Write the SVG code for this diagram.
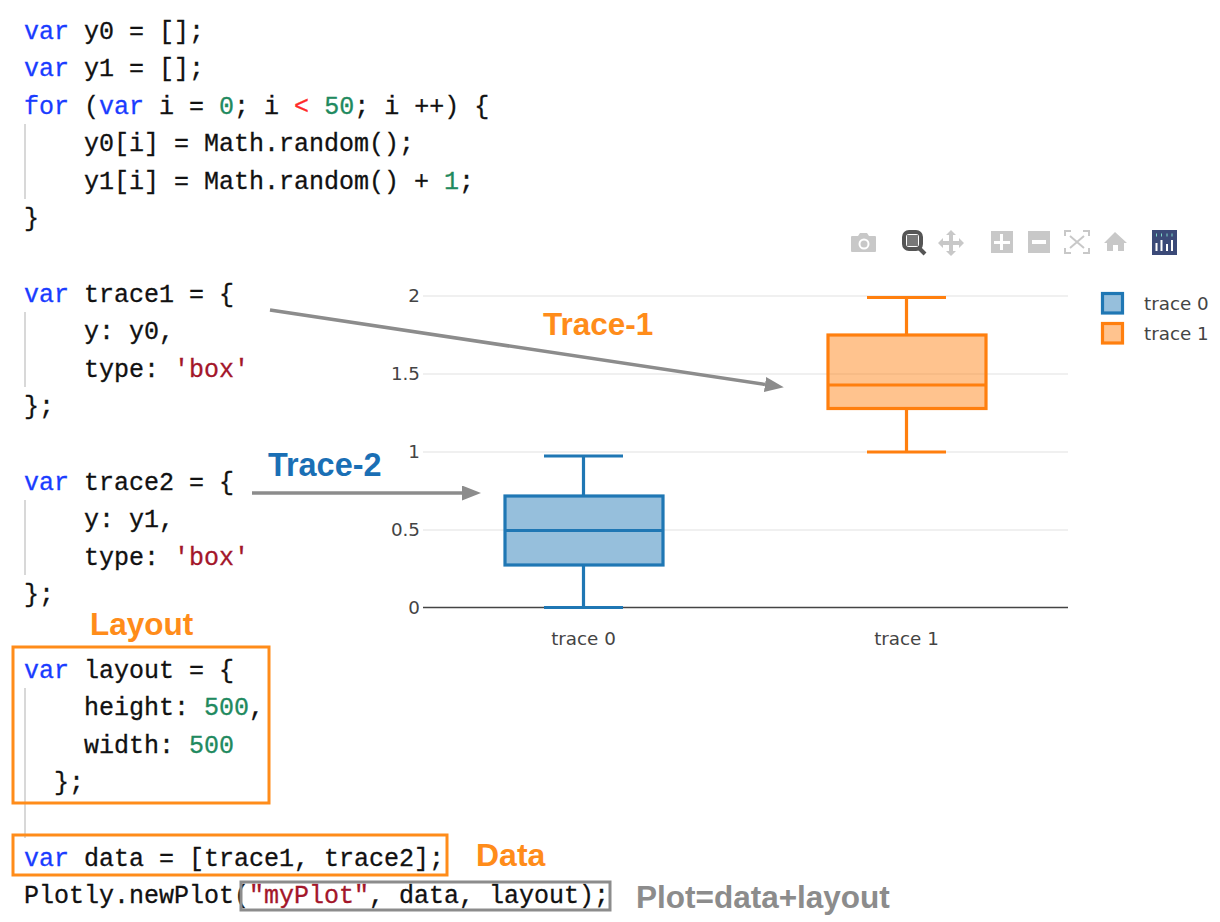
<svg xmlns="http://www.w3.org/2000/svg" width="1220" height="922" viewBox="0 0 1220 922">
<style>
.c{font-family:"Liberation Mono",monospace;font-size:25px;fill:#111;stroke:#111;stroke-width:.3;white-space:pre}
.k{fill:#1a3cff;stroke:#1a3cff}.n{fill:#1f8a60;stroke:#1f8a60}.s{fill:#a3162a;stroke:#a3162a}.o{fill:#ff2a2a;stroke:#ff2a2a}
.a{font-family:"DejaVu Sans",Verdana,sans-serif;font-size:18.300px;fill:#444}
.l{font-family:"Liberation Sans",Arial,sans-serif;font-size:31.500px;font-weight:bold}
.g{stroke:#f0f0f0;stroke-width:2;fill:none}
.ind{stroke:#d8d8d8;stroke-width:2;fill:none}
.b0{stroke:#1f77b4;stroke-width:3.2;fill:none}
.b1{stroke:#ff7f0e;stroke-width:3.2;fill:none}
.tb{fill:#c8c8c8}
</style>
<defs>
<marker id="ah" markerWidth="20" markerHeight="16" refX="0" refY="7.500" orient="auto" markerUnits="userSpaceOnUse"><path d="M0 0L19 7.500L0 15Z" fill="#8c8c8c"/></marker>
</defs>
<rect width="1220" height="922" fill="#fff"/>
<g id="code">
<path class="ind" d="M25 124V199M25 312V387M25 500V575M25 688V838"/>
<text class="c" x="24" y="38.700"><tspan class="k">var</tspan> y0 = [];</text>
<text class="c" x="24" y="76.200"><tspan class="k">var</tspan> y1 = [];</text>
<text class="c" x="24" y="113.700"><tspan class="k">for</tspan> (<tspan class="k">var</tspan> i = <tspan class="n">0</tspan>; i <tspan class="o">&lt;</tspan> <tspan class="n">50</tspan>; i ++) {</text>
<text class="c" x="84" y="151.200">y0[i] = Math.random();</text>
<text class="c" x="84" y="188.700">y1[i] = Math.random() + <tspan class="n">1</tspan>;</text>
<text class="c" x="24" y="226.200">}</text>
<text class="c" x="24" y="301.700"><tspan class="k">var</tspan> trace1 = {</text>
<text class="c" x="84" y="339.200">y: y0,</text>
<text class="c" x="84" y="376.700">type: <tspan class="s">'box'</tspan></text>
<text class="c" x="24" y="414.200">};</text>
<text class="c" x="24" y="489.700"><tspan class="k">var</tspan> trace2 = {</text>
<text class="c" x="84" y="527.200">y: y1,</text>
<text class="c" x="84" y="564.700">type: <tspan class="s">'box'</tspan></text>
<text class="c" x="24" y="602.200">};</text>
<text class="c" x="24" y="677.700"><tspan class="k">var</tspan> layout = {</text>
<text class="c" x="84" y="715.200">height: <tspan class="n">500</tspan>,</text>
<text class="c" x="84" y="752.700">width: <tspan class="n">500</tspan></text>
<text class="c" x="54" y="790.200">};</text>
<text class="c" x="24" y="865.700"><tspan class="k">var</tspan> data = [trace1, trace2];</text>
<text class="c" x="24" y="903.200">Plotly.newPlot(<tspan class="s">"myPlot"</tspan>, data, layout);</text>
</g>
<g id="toolbar">
<path class="tb" d="M852 236h6l2-3h7l2 3h6a1 1 0 0 1 1 1v14a1 1 0 0 1-1 1h-23a1 1 0 0 1-1-1v-14a1 1 0 0 1 1-1z"/>
<circle cx="864" cy="244" r="5.500" fill="#fff"/><circle cx="864" cy="244" r="3.500" fill="#c8c8c8"/>
<rect x="904" y="232" width="17" height="17" rx="5" fill="none" stroke="#555" stroke-width="4"/>
<rect x="907" y="235" width="11" height="11" fill="#777"/>
<path d="M918 247L925 254" stroke="#555" stroke-width="4"/>
<path class="tb" d="M951 230l5 5h-3v6h6v-3l5 5-5 5v-3h-6v6h3l-5 5-5-5h3v-6h-6v3l-5-5 5-5v3h6v-6h-3z"/>
<path class="tb" fill-rule="evenodd" d="M991 231h22v22h-22zM1000 234v7h-6v3h6v6h3v-6h7v-3h-7v-7z"/>
<path class="tb" fill-rule="evenodd" d="M1028 231h22v22h-22zM1032 240v4h14v-4z"/>
<path d="M1065 236v-5h6M1083 231h6v5M1089 248v5h-6M1071 253h-6v-5M1070 236l14 12M1084 236l-14 12" fill="none" stroke="#c8c8c8" stroke-width="2"/>
<path class="tb" d="M1115 232l12 11h-3v8h-6v-6h-5v6h-6v-8h-3z"/>
<rect x="1152" y="230" width="25" height="25" fill="#3b4a78"/>
<path d="M1156.500 243v8M1161.500 240v11M1167 244v7M1172 240v11" stroke="#fff" stroke-width="2"/>
<path d="M1156 235h1M1161 235h1M1166.500 235h1M1171.500 235h1" stroke="#7fd8c8" stroke-width="3"/>
</g>
<g id="plot">
<path class="g" d="M423 296H1068M423 374H1068M423 452H1068M423 530H1068"/>
<path d="M423 607.500H1068" stroke="#444" stroke-width="1.500"/>
<text class="a" x="420" y="302" text-anchor="end">2</text>
<text class="a" x="420" y="380" text-anchor="end">1.5</text>
<text class="a" x="420" y="458" text-anchor="end">1</text>
<text class="a" x="420" y="536" text-anchor="end">0.5</text>
<text class="a" x="420" y="614" text-anchor="end">0</text>
<text class="a" x="583.500" y="645" text-anchor="middle">trace 0</text>
<text class="a" x="906.500" y="645" text-anchor="middle">trace 1</text>
</g>
<g id="box-trace0">
<rect x="505" y="496" width="158" height="69" fill-opacity=".47" class="b0" style="fill:#1f77b4"/>
<path class="b0" d="M505 530.500H663M583.500 496V456M544 456H623M583.500 565V607.500M544 607.500H623"/>
</g>
<g id="box-trace1">
<rect x="828" y="335" width="158" height="73.500" class="b1" style="fill:#ff7f0e" fill-opacity=".47"/>
<path class="b1" d="M828 385H986M906.500 335V297.500M867 297.500H946M906.500 408.500V452M867 452H946"/>
</g>
<g id="legend">
<rect x="1102.500" y="293.500" width="20" height="19.500" class="b0" style="fill:#1f77b4" fill-opacity=".47"/>
<rect x="1102.500" y="323.500" width="20" height="19.500" class="b1" style="fill:#ff7f0e" fill-opacity=".47"/>
<text class="a" x="1144" y="310">trace 0</text>
<text class="a" x="1144" y="340">trace 1</text>
</g>
<g id="connectors" stroke="#8c8c8c" stroke-width="3.500" fill="none">
<path d="M270 310L765 384.500" marker-end="url(#ah)"/>
<path d="M252 493H462" marker-end="url(#ah)"/>
</g>
<g id="annotations">
<text class="l" x="543" y="335" style="fill:#ff8c1a">Trace-1</text>
<text class="l" x="268" y="476" style="fill:#1a6fb5;font-size:32.400px">Trace-2</text>
<text class="l" x="90" y="635" style="fill:#ff8c1a">Layout</text>
<text class="l" x="476" y="866" style="fill:#ff8c1a;font-size:32px">Data</text>
<text class="l" x="636" y="908" style="fill:#8c8c8c">Plot=data+layout</text>
<rect x="13" y="647" width="256" height="156" fill="none" stroke="#ff8c1a" stroke-width="3"/>
<rect x="13" y="835" width="434" height="40" fill="none" stroke="#ff8c1a" stroke-width="3"/>
<rect x="241" y="882" width="369" height="28" fill="none" stroke="#8c8c8c" stroke-width="3"/>
</g>
</svg>
